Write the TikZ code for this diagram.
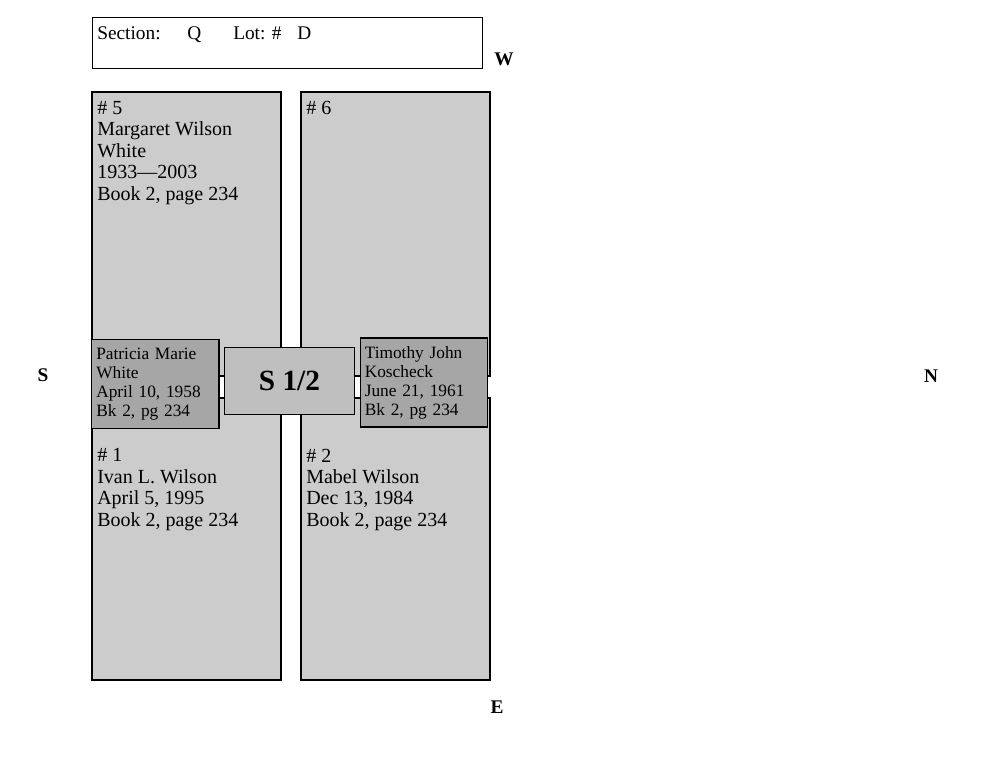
\documentclass[tikz,border=0pt]{standalone}
\usepackage{fontspec}
\setmainfont{Liberation Serif}
\definecolor{plotgray}{gray}{0.8}
\definecolor{markergray}{gray}{0.75}
\definecolor{sidegray}{gray}{0.65}
\tikzset{
  plot/.style={draw=black, line width=1.8pt, fill=plotgray},
  plotlabel/.style={anchor=north west, inner sep=0pt, align=left, font=\fontsize{15}{16.1}\selectfont},
  sidebox/.style={draw=black, line width=0.9pt, fill=sidegray, anchor=north west, inner xsep=3.5pt,
    text width=88.5pt, minimum height=66.75pt, align=left, font=\fontsize{13}{14.25}\selectfont},
  compass/.style={font=\fontsize{14.5}{16}\selectfont\bfseries},
}
\begin{document}
\begin{tikzpicture}[x=0.75pt, y=-0.75pt]
    \useasboundingbox (0,0) rectangle (1000,773);

    % header
    \node[draw=black, line width=0.75pt, anchor=north west, minimum width=292.5pt, minimum height=38.25pt] (header) at (92,17) {};
    \node[anchor=base west, inner sep=0pt, font=\fontsize{14.5}{16}\selectfont] (section) at (97,39.5)
      {\makebox[67.5pt][l]{Section:}\makebox[34.5pt][l]{Q}\makebox[48pt][l]{Lot: \#}D};

    % plots
    \draw[plot] (92,92) rectangle (281,376);
    \draw[plot] (301,92) rectangle (490,376);
    \draw[plot] (92,398) rectangle (281,680);
    \draw[plot] (301,398) rectangle (490,680);

    \node[plotlabel] (plot5) at (97,101) {\# 5\\Margaret Wilson\\White\\1933—2003\\Book 2, page 234};
    \node[plotlabel] (plot6) at (306,101) {\# 6};
    \node[plotlabel] (plot1) at (97,448.5) {\# 1\\Ivan L. Wilson\\April 5, 1995\\Book 2, page 234};
    \node[plotlabel] (plot2) at (306,448.5) {\# 2\\Mabel Wilson\\Dec 13, 1984\\Book 2, page 234};

    % markers
    \node[sidebox] (white) at (91,339) {Patricia Marie\\White\\April 10, 1958\\Bk 2, pg 234};
    \node[sidebox] (koscheck) at (359.5,337.5) {Timothy John\\Koscheck\\June 21, 1961\\Bk 2, pg 234};
    \node[draw=black, line width=0.75pt, fill=markergray, anchor=north west, minimum width=97.5pt, minimum height=50.25pt,
      font=\fontsize{22}{24}\selectfont\bfseries] (half) at (224,347) {S 1/2};

    % directions
    \node[compass] (west) at (504,59) {W};
    \node[compass] (south) at (43,375) {S};
    \node[compass] (north) at (931,376) {N};
    \node[compass] (east) at (497,707) {E};
\end{tikzpicture}
\end{document}
